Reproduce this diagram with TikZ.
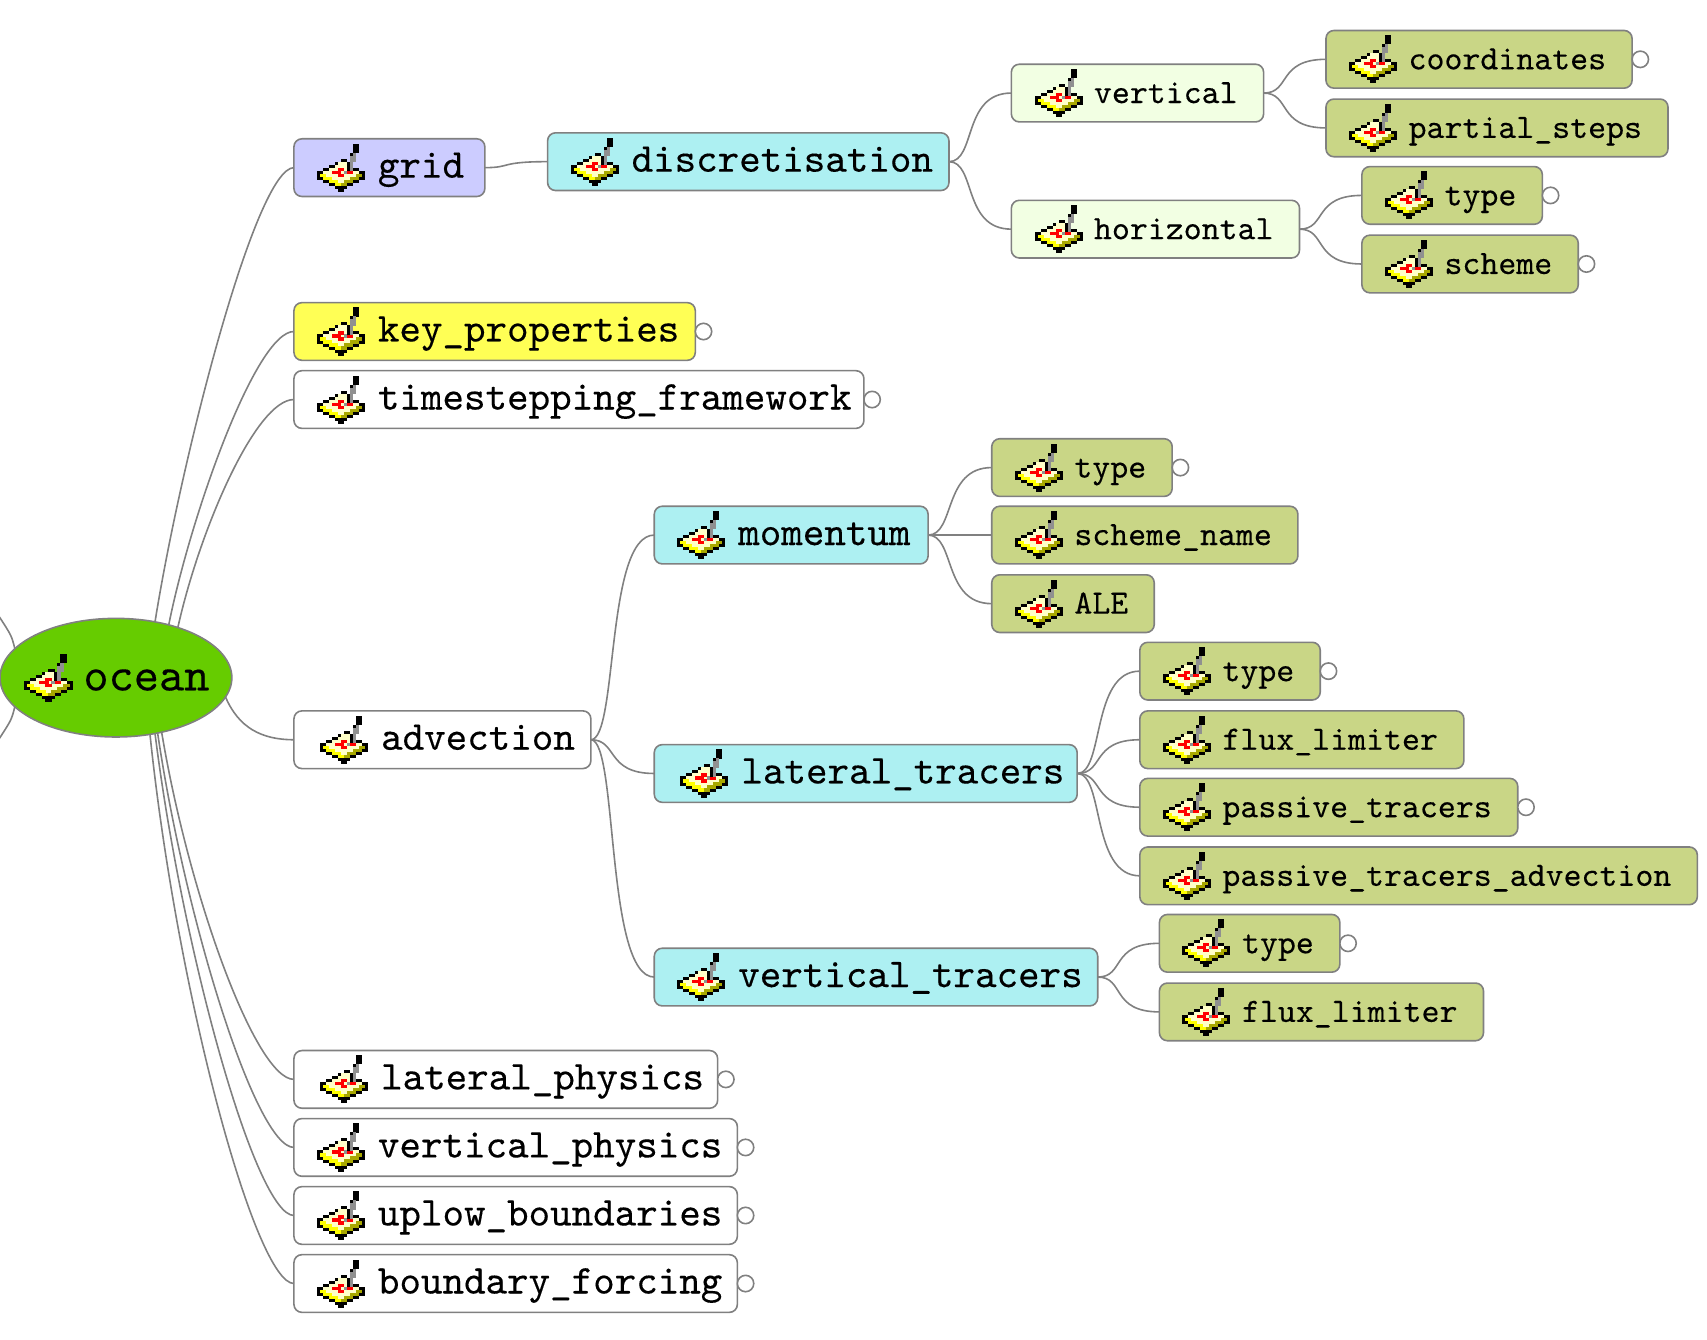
\documentclass[tikz,border=0pt]{standalone}
\usepackage{fontspec}
\setmonofont{lmmono10-regular.otf}[FakeBold=0.25]
\usetikzlibrary{calc,positioning,shapes.geometric}

\definecolor{edgegray}{HTML}{808080}
\definecolor{rootgreen}{HTML}{66CC00}
\definecolor{gridblue}{HTML}{CCCCFF}
\definecolor{sectioncyan}{HTML}{ADF0F2}
\definecolor{palegreen}{HTML}{F2FFE3}
\definecolor{leafolive}{HTML}{C9D686}
\definecolor{keyyellow}{HTML}{FFFF55}
\definecolor{iconcream}{HTML}{FFFFC8}
\definecolor{iconyellow}{HTML}{FFFF00}
\definecolor{icondark}{HTML}{A8A800}
\definecolor{icongray}{HTML}{909090}

\tikzset{
  topic/.style={draw=edgegray, line width=.8pt, rounded corners=4pt, anchor=west, inner ysep=0pt,
    outer sep=0pt, minimum height=28.85pt, text height=10pt, text depth=0pt},
  big/.style={topic, inner xsep=8pt, font=\fontsize{20.5}{24}\selectfont\ttfamily,
    execute at begin node={\hspace*{34pt}}},
  small/.style={topic, inner xsep=13pt, font=\fontsize{17.1}{20}\selectfont\ttfamily,
    execute at begin node={\hspace*{28.3pt}}},
  leaf/.style={small, fill=leafolive},
  section/.style={big, fill=sectioncyan},
  fold/.style={circle, draw=edgegray, line width=.8pt, fill=white, inner sep=0pt, outer sep=0pt, minimum size=8.2pt},
  link/.style={edgegray, line width=.8pt},
  branch/.style={link, to path={.. controls +(25,0) and +(-45,0) .. (\tikztotarget)}},
  pencil/.pic={
    \begin{scope}[x=1.5pt,y=-1.5pt,shift={(-8,-8)}]
      \foreach \row/\from/\upto/\col in {
        5/8/9/black,6/6/10/black,7/4/11/black,8/2/13/black,9/0/15/black,10/0/15/black,
        11/0/15/black,12/2/13/black,13/4/11/black,14/6/9/black,15/7/8/black,
        6/7/9/iconcream,7/6/10/iconcream,8/4/11/iconcream,9/2/13/iconcream,
        10/3/12/iconcream,11/5/10/iconcream,12/7/8/iconcream,
        10/1/2/iconyellow,11/2/4/iconyellow,12/4/6/iconyellow,13/6/7/iconyellow,
        10/13/14/icondark,11/11/13/icondark,12/9/11/icondark,13/8/9/icondark,
        9/5/7/red,9/10/11/red,8/7/8/red,10/7/8/red,
        0/12/13/black,1/12/13/black,2/12/13/black,3/11/11/black,6/10/10/black,7/10/10/black,8/10/10/black,
        3/12/12/icongray,4/11/12/icongray,5/11/12/icongray,6/11/11/icongray,7/11/11/icongray,
        8/11/11/icongray,9/9/9/icongray}
        \fill[\col] (\from,\row) rectangle (\upto+1.03,\row+1.03);
    \end{scope}
  }
}

\begin{document}
\begin{tikzpicture}[x=.5443pt,y=-.5443pt]
  \useasboundingbox (0,0) rectangle (1568,1230);

  \node[ellipse, draw=edgegray, line width=.8pt, fill=rootgreen, inner sep=0pt, outer sep=0pt, minimum width=115.9pt,
    minimum height=59.3pt, text height=12.8pt, text depth=0pt] (ocean) at (106.5,622.5)
    {\makebox[0pt]{\hspace*{30.5pt}\fontsize{24}{28}\selectfont\ttfamily ocean}};

  % top of the tree
  \node[big, fill=gridblue] (grid) at (270,154) {grid\hspace*{2.4pt}};
  \node[section] (discretisation) at (503,148.5) {discretisation};
  \node[small, fill=palegreen] (vertical) at (929,85.5) {vertical};
  \node[small, fill=palegreen] (horizontal) at (929,210.5) {horizontal};
  \node[leaf] (coordinates) at (1218,54.5) {coordinates};
  \node[leaf] (partial_steps) at (1218,117.5) {partial\_steps};
  \node[leaf] (hor_type) at (1251,179.5) {type};
  \node[leaf] (hor_scheme) at (1251,242.5) {scheme};
  \node[big, fill=keyyellow] (key_properties) at (270,304.5) {key\_properties};
  \node[big, fill=white] (timestepping) at (270,367) {timestepping\_framework\hspace*{-1.8pt}};

  % advection
  \node[big, fill=white] (advection) at (270,679.5) {\hspace*{1.6pt}advection};
  \node[section] (momentum) at (601,491.5) {momentum\hspace*{.8pt}};
  \node[section] (lateral_tracers) at (601,710.5) {\hspace*{1.6pt}lateral\_tracers\hspace*{-1.6pt}};
  \node[section] (vertical_tracers) at (601,897.5) {vertical\_tracers\hspace*{-.5pt}};
  \node[leaf] (mom_type) at (911,429.5) {type};
  \node[leaf] (scheme_name) at (911,491.5) {scheme\_name};
  \node[leaf] (ale) at (911,554.5) {ALE};
  \node[leaf] (lat_type) at (1047,616.5) {type};
  \node[leaf] (lat_limiter) at (1047,679.5) {flux\_limiter};
  \node[leaf] (passive) at (1047,741.5) {passive\_tracers};
  \node[leaf] (passive_adv) at (1047,804.5) {passive\_tracers\_advection};
  \node[leaf] (ver_type) at (1065,866.5) {type};
  \node[leaf] (ver_limiter) at (1065,929.5) {flux\_limiter};

  % bottom of the tree
  \node[big, fill=white] (lateral_physics) at (270,991.5) {\hspace*{1.6pt}lateral\_physics\hspace*{-1.2pt}};
  \node[big, fill=white] (vertical_physics) at (270,1054) {vertical\_physics\hspace*{-.5pt}};
  \node[big, fill=white] (uplow) at (270,1116.5) {uplow\_boundaries\hspace*{-.5pt}};
  \node[big, fill=white] (forcing) at (270,1179) {boundary\_forcing\hspace*{-.5pt}};

  \foreach \n/\d in {grid/43,discretisation/43.5,vertical/44,horizontal/44,coordinates/43,partial_steps/43,
      hor_type/43,hor_scheme/43,key_properties/43,timestepping/43,advection/46,momentum/43,
      lateral_tracers/46,vertical_tracers/43,mom_type/43,scheme_name/43,ale/43,lat_type/43,lat_limiter/43,
      passive/43,passive_adv/43,ver_type/43,ver_limiter/43,lateral_physics/46,vertical_physics/43,uplow/43,forcing/43}
    \pic at ($(\n.west)+(\d,0)$) {pencil};
  \pic at ($(ocean.center)+(-62,0)$) {pencil};

  \foreach \n in {coordinates,hor_type,hor_scheme,key_properties,timestepping,mom_type,lat_type,passive,
      ver_type,lateral_physics,vertical_physics,uplow,forcing}
    \node[fold, right=0pt of \n] (\n_fold) {};

  % links out of the root
  \draw[link] (ocean.55) .. controls +(24,-150) and +(-35,0) .. (grid.west);
  \draw[link] (ocean.45) .. controls +(20,-100) and +(-35,0) .. (key_properties.west);
  \draw[link] (ocean.39) .. controls +(20,-90) and +(-35,0) .. (timestepping.west);
  \draw[link] (ocean.-10) .. controls +(12,28) and +(-30,0) .. (advection.west);
  \draw[link] (ocean.-50) .. controls +(25,150) and +(-35,0) .. (lateral_physics.west);
  \draw[link] (ocean.-53) .. controls +(25,170) and +(-35,0) .. (vertical_physics.west);
  \draw[link] (ocean.-55.5) .. controls +(25,200) and +(-35,0) .. (uplow.west);
  \draw[link] (ocean.-59.5) .. controls +(25,240) and +(-35,0) .. (forcing.west);
  \coordinate (off_top) at (-1,566);
  \coordinate (off_bottom) at (-1,679);
  \draw[link] (ocean.164) .. controls +(-3,-12) .. (off_top);
  \draw[link] (ocean.196) .. controls +(-3,12) .. (off_bottom);

  % links between the topics
  \foreach \a/\b in {grid/discretisation,discretisation/vertical,discretisation/horizontal,vertical/coordinates,
      vertical/partial_steps,horizontal/hor_type,horizontal/hor_scheme,advection/momentum,advection/lateral_tracers,
      advection/vertical_tracers,momentum/mom_type,momentum/scheme_name,momentum/ale,lateral_tracers/lat_type,
      lateral_tracers/lat_limiter,lateral_tracers/passive,lateral_tracers/passive_adv,vertical_tracers/ver_type,
      vertical_tracers/ver_limiter}
    \draw[branch] (\a.east) to (\b.west);
\end{tikzpicture}
\end{document}
